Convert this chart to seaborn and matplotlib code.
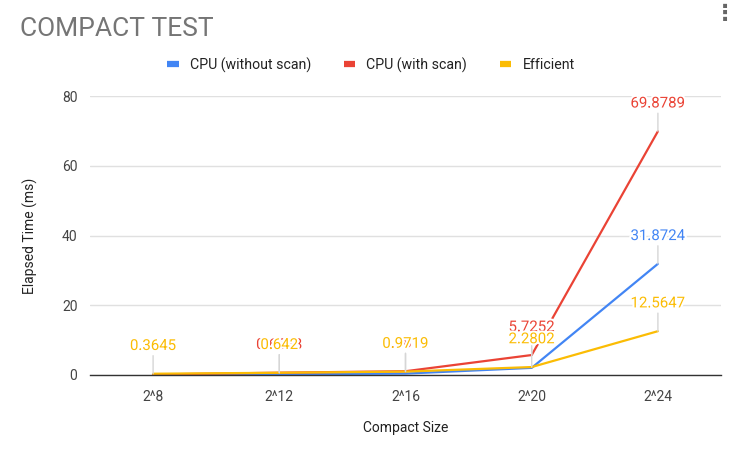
import pandas as pd
import matplotlib.pyplot as plt
import matplotlib.patheffects as pe
from matplotlib.lines import Line2D
import seaborn as sns

sizes = ["2^8", "2^12", "2^16", "2^20", "2^24"]
cpu_no_scan = [0.12, 0.22, 0.40, 2.05, 31.8724]
cpu_scan = [0.15, 0.6628, 1.0812, 5.7252, 69.8789]
efficient = [0.3645, 0.642, 0.9719, 2.2802, 12.5647]

series_names = ["CPU (without scan)", "CPU (with scan)", "Efficient"]
colors = ["#4285F4", "#EA4335", "#FBBC04"]
# which point labels google kept visible
shown = [
    [False, False, False, False, True],
    [False, True, True, True, True],
    [True, True, True, True, True],
]

sns.set_style("white")
plt.rcParams["font.family"] = ["Roboto", "DejaVu Sans"]

df = pd.DataFrame({
    "size": sizes * 3,
    "time": cpu_no_scan + cpu_scan + efficient,
    "series": [n for n in series_names for _ in sizes],
})

fig = plt.figure(figsize=(7.37, 4.49), dpi=100)
ax = fig.add_axes([90 / 737, 74 / 449, 631 / 737, 279 / 449])

sns.lineplot(data=df, x="size", y="time", hue="series", palette=colors,
             sort=False, linewidth=1.6, legend=False, ax=ax)

ax.set_xlim(-0.5, 4.5)
ax.set_ylim(0, 80)
ax.set_yticks([0, 20, 40, 60, 80])
ax.grid(axis="y", color="#e0e0e0", linewidth=1)
ax.grid(axis="x", visible=False)
for s in ["top", "left", "right"]:
    ax.spines[s].set_visible(False)
ax.spines["bottom"].set_color("#333333")
ax.spines["bottom"].set_linewidth(1)
ax.tick_params(axis="both", length=0, labelsize=10, labelcolor="#444444")
ax.tick_params(axis="x", pad=11)
ax.tick_params(axis="y", pad=9)
ax.set_xlabel("Compact Size", fontsize=10, color="#222222", labelpad=12)
ax.set_ylabel("Elapsed Time (ms)", fontsize=10, color="#222222", labelpad=17)

# data labels with leader lines
for vals, col, show in zip([cpu_no_scan, cpu_scan, efficient], colors, shown):
    for i, v in enumerate(vals):
        if not show[i]:
            continue
        off = 20
        ax.annotate("", xy=(i, v), xytext=(0, off - 7), textcoords="offset points",
                    arrowprops=dict(arrowstyle="-", color="#d6d6d6", lw=1,
                                    shrinkA=0, shrinkB=0))
        ax.annotate(f"{v:g}", xy=(i, v), xytext=(0, off), textcoords="offset points",
                    ha="center", va="center", fontsize=10.8, color=col,
                    annotation_clip=False,
                    path_effects=[pe.withStroke(linewidth=3, foreground="white")])

handles = [Line2D([0], [0], color=c, linewidth=4.5, solid_capstyle="butt") for c in colors]
fig.legend(handles, series_names, loc="center", bbox_to_anchor=(371 / 737, 1 - 65 / 449),
           ncol=3, frameon=False, fontsize=10.2, handlelength=0.8, columnspacing=2.3,
           handletextpad=0.8, labelcolor="#222222")

fig.text(20 / 737, 1 - 29 / 449, "COMPACT TEST", fontsize=19, color="#757575",
         va="center", ha="left")
fig.text(725 / 737, 1 - 14 / 449, "\u22ee", fontsize=16, color="#666666",
         va="center", ha="center", family="DejaVu Sans", fontweight="bold")

fig.savefig("out.png", dpi=100)
